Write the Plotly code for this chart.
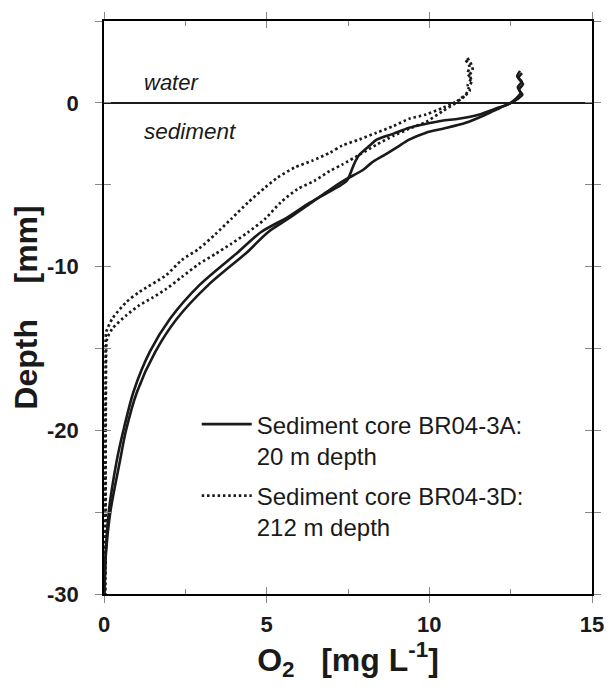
import plotly.graph_objects as go

# ---- data (O2 in mg/L, depth in mm) ----
a1_o2 = [12.79, 12.70, 12.84, 12.72, 12.80, 12.66, 12.45, 12.03, 11.51, 10.90, 10.39, 9.90, 9.38, 8.90, 8.38,
         8.17, 7.83, 7.68, 7.47, 7.16, 6.34, 5.64, 4.82, 4.12, 2.94, 2.03, 1.41, 0.91, 0.59, 0.39,
         0.15, 0.05, 0.01]
a1_depth = [1.95, 1.62, 1.30, 0.95, 0.61, 0.25, -0.06, -0.36, -0.73, -0.97, -1.09, -1.28, -1.52, -1.88, -2.25,
            -2.61, -3.22, -3.77, -4.74, -5.17, -6.08, -6.99, -7.90, -9.12, -11.12, -13.19, -15.20, -17.63,
            -20.06, -21.88, -24.92, -27.54, -30.0]

a2_o2 = [12.85, 12.74, 12.88, 12.76, 12.86, 12.70, 12.51, 12.18, 11.72, 11.12, 10.42, 9.90, 9.38, 8.99, 8.59,
         8.23, 7.98, 7.38, 6.95, 6.34, 5.64, 5.04, 4.40, 3.21, 2.24, 1.58, 1.02, 0.67, 0.49, 0.20, 0.06, 0.01]
a2_depth = [1.82, 1.50, 1.15, 0.80, 0.50, 0.22, 0.00, -0.30, -0.73, -1.22, -1.58, -1.82, -2.25, -2.74, -3.22,
            -3.65, -4.07, -4.74, -5.29, -6.14, -7.11, -7.90, -9.12, -11.12, -13.19, -15.20, -17.63, -20.06,
            -21.88, -24.92, -27.54, -30.0]

d1_o2 = [11.17, 11.30, 11.33, 11.24, 11.30, 11.21, 11.15, 10.99, 10.75, 10.42, 9.90, 9.38, 8.90, 8.38,
         7.86, 7.32, 6.95, 6.40, 5.86, 5.34, 4.95, 4.43, 3.91, 3.43, 2.91, 2.39, 1.91, 1.09, 0.69, 0.26,
         0.07, 0.05, 0.05, 0.04, 0.04, 0.03]
d1_depth = [2.74, 2.31, 2.01, 1.70, 1.34, 0.91, 0.61, 0.24, 0.00, -0.30, -0.71, -0.97, -1.42, -1.82,
            -2.23, -2.61, -3.04, -3.53, -3.95, -4.56, -5.17, -6.08, -7.09, -8.01, -8.92, -9.60, -10.52,
            -11.55, -12.16, -13.17, -13.98, -14.47, -16.0, -20.0, -25.0, -30.0]

d2_o2 = [11.12, 11.24, 11.18, 11.27, 11.18, 11.24, 11.08, 10.90, 10.81, 10.42, 9.90, 9.38, 8.90, 8.38,
         7.86, 7.32, 6.95, 6.47, 5.95, 5.43, 4.95, 4.43, 3.91, 3.43, 2.91, 2.39, 1.91, 1.48, 1.09, 0.69,
         0.26, 0.10, 0.07, 0.06, 0.05, 0.05, 0.04]
d2_depth = [2.61, 2.19, 1.82, 1.46, 1.09, 0.73, 0.43, 0.18, 0.00, -0.49, -1.16, -1.58, -2.01, -2.55,
            -3.16, -3.77, -4.15, -4.76, -5.27, -6.08, -7.09, -7.90, -8.61, -9.22, -9.85, -10.64, -11.37,
            -11.91, -12.36, -12.97, -13.78, -14.39, -14.89, -17.0, -22.0, -27.0, -30.0]

name_a = "Sediment core BR04-3A:<br>20 m depth"
name_d = "Sediment core BR04-3D:<br>212 m depth"

x_range = [0, 15]
y_range = [-30, 5]
y_tickvals = [-30, -20, -10, 0]
y_ticktext = ["-30", "-20", "-10", "0"]
y_minorvals = [-25, -15, -5, 5]
x_tickvals = [0, 5, 10, 15]
x_ticktext = ["0", "5", "10", "15"]
x_minorvals = [2.5, 7.5, 12.5]

FONT = "Liberation Sans, Arial, Helvetica, sans-serif"
INK = "#1a1a1a"
TICKC = "#888"

fig = go.Figure()
fig.add_trace(go.Scatter(x=a1_o2, y=a1_depth, mode="lines", name=name_a, legendgroup="a",
                         line=dict(color=INK, width=2.6, shape="spline", smoothing=0.8), showlegend=True))
fig.add_trace(go.Scatter(x=a2_o2, y=a2_depth, mode="lines", name=name_a, legendgroup="a",
                         line=dict(color=INK, width=2.6, shape="spline", smoothing=0.8), showlegend=False))
fig.add_trace(go.Scatter(x=d1_o2, y=d1_depth, mode="lines", name=name_d, legendgroup="d",
                         line=dict(color=INK, width=2.7, dash="2.5px,2.8px", shape="spline", smoothing=0.7),
                         showlegend=True))
fig.add_trace(go.Scatter(x=d2_o2, y=d2_depth, mode="lines", name=name_d, legendgroup="d",
                         line=dict(color=INK, width=2.7, dash="2.5px,2.8px", shape="spline", smoothing=0.7),
                         showlegend=False))
# empty trace that activates the overlay axes carrying the inside half of the crossing ticks
fig.add_trace(go.Scatter(x=[], y=[], xaxis="x2", yaxis="y2", showlegend=False, hoverinfo="skip"))

tick_font = dict(family=FONT, size=22, color=INK, weight="bold")

fig.update_layout(
    width=616, height=697,
    margin=dict(l=104, r=18, t=18, b=103),
    paper_bgcolor="white", plot_bgcolor="white",
    font=dict(family=FONT, color=INK),
    xaxis=dict(range=x_range, tickvals=x_tickvals, ticktext=x_ticktext, ticks="outside", ticklen=7,
               tickcolor=TICKC, tickwidth=1, showline=True, linecolor="black", linewidth=1.5,
               mirror="ticks", showgrid=False, zeroline=False, tickfont=tick_font, ticklabelstandoff=3,
               title=dict(text="O<sub>2</sub>\u00a0\u00a0\u00a0[mg L<sup>-1</sup>]",
                          font=dict(family=FONT, size=32, weight="bold"), standoff=10),
               fixedrange=True),
    yaxis=dict(range=y_range, tickvals=y_tickvals, ticktext=y_ticktext, ticks="outside", ticklen=7,
               tickcolor=TICKC, tickwidth=1, showline=True, linecolor="black", linewidth=1.5,
               mirror="ticks", showgrid=False, zeroline=True, zerolinecolor=INK, zerolinewidth=2,
               tickfont=tick_font, ticklabelstandoff=12,
               minor=dict(tickvals=y_minorvals, ticks="outside", ticklen=7, tickcolor=TICKC, tickwidth=1,
                          showgrid=False),
               title=dict(text="Depth\u00a0\u00a0\u00a0\u00a0[mm]", font=dict(family=FONT, size=32, weight="bold"),
                          standoff=0),
               fixedrange=True),
    xaxis2=dict(range=x_range, overlaying="x", anchor="y2", tickvals=x_tickvals, ticks="inside", ticklen=7,
                tickcolor=TICKC, tickwidth=1, mirror="ticks", showticklabels=False, showgrid=False,
                zeroline=False, showline=False,
                minor=dict(tickvals=x_minorvals, ticks="inside", ticklen=5, tickcolor=TICKC,
                           tickwidth=1, showgrid=False),
                fixedrange=True),
    yaxis2=dict(range=y_range, overlaying="y", anchor="x2", tickvals=y_tickvals, ticks="inside", ticklen=7,
                tickcolor=TICKC, tickwidth=1, mirror="ticks", showticklabels=False, showgrid=False,
                zeroline=False, showline=False,
                minor=dict(tickvals=y_minorvals, ticks="inside", ticklen=7, tickcolor=TICKC, tickwidth=1,
                           showgrid=False),
                fixedrange=True),
    legend=dict(x=0.19, y=0.335, xanchor="left", yanchor="top", bgcolor="rgba(0,0,0,0)",
                font=dict(family=FONT, size=24, color=INK), tracegroupgap=6,
                itemwidth=50, valign="top"),
    showlegend=True,
)

fig.add_annotation(x=1.18, y=1.22, xref="x", yref="y", text="<i>water</i>", showarrow=False,
                   xanchor="left", yanchor="middle", font=dict(family=FONT, size=22, color=INK))
fig.add_annotation(x=1.18, y=-1.75, xref="x", yref="y", text="<i>sediment</i>", showarrow=False,
                   xanchor="left", yanchor="middle", font=dict(family=FONT, size=22.5, color=INK))

fig.write_html("out.html")
